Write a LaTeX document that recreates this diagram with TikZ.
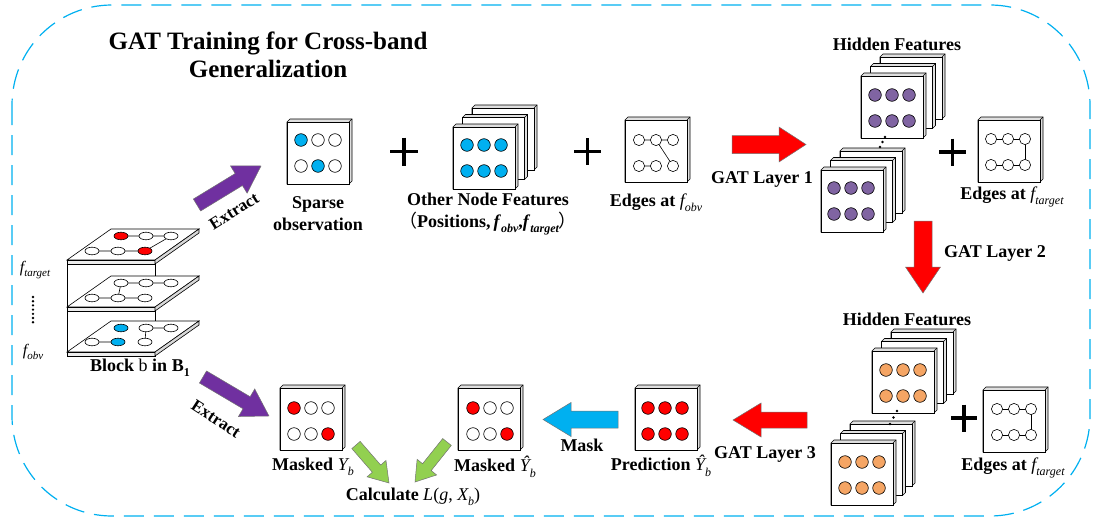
\documentclass[tikz,border=0pt]{standalone}
\usepackage{fontspec}
\setmainfont{Liberation Serif}
\newfontfamily\cjk{Noto Sans CJK SC}
\definecolor{cyanb}{RGB}{0,176,240}
\definecolor{purp}{RGB}{112,48,160}
\definecolor{nodep}{RGB}{128,100,162}
\definecolor{orng}{RGB}{245,165,100}
\definecolor{grn}{RGB}{146,208,80}
\definecolor{redd}{RGB}{255,0,0}
\newcommand\lab{\fontsize{18}{22}\selectfont\bfseries}
\newcommand\sbs[1]{\raisebox{-0.3em}{\fontsize{12}{12}\selectfont #1}}
\newcommand\sbl[1]{\raisebox{-0.3em}{\fontsize{11}{11}\selectfont #1}}
% block arrow: color, tail x,y, tip x,y, body half, head half, head length
\newcommand\barrow[8]{%
  \pgfmathsetmacro\bdx{(#4)-(#2)}\pgfmathsetmacro\bdy{(#5)-(#3)}%
  \pgfmathsetmacro\blen{veclen(\bdx,\bdy)}%
  \pgfmathsetmacro\bang{atan2(0-(\bdy),\bdx)}%
  \pgfmathsetmacro\bneck{\blen-(#8)}%
  \begin{scope}[shift={(#2,#3)},rotate=\bang]
    \filldraw[fill=#1,draw=black!55,line width=0.5pt] (0,-#6) -- (\bneck,-#6) -- (\bneck,-#7) -- (\blen,0) -- (\bneck,#7) -- (\bneck,#6) -- (0,#6) -- cycle;
  \end{scope}}
% card with 3D depth, top-left x,y
\newcommand\card[2]{%
  \filldraw[fill=gray!25,draw=black,line width=0.6pt] (#1,#2) -- ++(3,-3) -- ++(62,0) -- ++(0,62) -- ++(-3,3) -- ++(-62,0) -- cycle;
  \draw[line width=0.6pt] (#1+62,#2) -- ++(3,-3);
  \filldraw[fill=white,draw=black,line width=0.9pt] (#1,#2) rectangle ++(62,62);}
\newcommand\stackc[2]{\card{#1+19}{#2-19}\card{#1+9.5}{#2-9.5}\card{#1}{#2}}
% six circles around centre
\newcommand\six[8]{%
  \foreach \xx/\yy/\cc in {-17/-13/#3,0/-13/#4,17/-13/#5,-17/13/#6,0/13/#7,17/13/#8}
    \filldraw[fill=\cc,draw=black,line width=0.6pt] (#1+\xx,#2+\yy) circle[radius=6.3pt];}
\newcommand\graphobv[2]{%
  \draw[line width=0.6pt] (#1-17,#2-13) -- (#1+17,#2-13) (#1-17,#2+13) -- (#1,#2+13) (#1,#2-13) -- (#1+17,#2+13);
  \foreach \xx/\yy in {-17/-13,0/-13,17/-13,-17/13,0/13,17/13}
    \filldraw[fill=white,draw=black,line width=0.6pt] (#1+\xx,#2+\yy) circle[radius=5.6pt];}
\newcommand\graphtgt[2]{%
  \draw[line width=0.6pt] (#1-17,#2-13) -- (#1+17,#2-13) (#1-17,#2+13) -- (#1+17,#2+13) (#1+17,#2-13) -- (#1+17,#2+13);
  \foreach \xx/\yy in {-17/-13,0/-13,17/-13,-17/13,0/13,17/13}
    \filldraw[fill=white,draw=black,line width=0.6pt] (#1+\xx,#2+\yy) circle[radius=5.6pt];}
\newcommand\plate[1]{%
  \filldraw[fill=white,draw=black,line width=0.6pt] (67,#1) -- (155,#1) -- (199,#1-31) -- (111,#1-31) -- cycle;
  \filldraw[fill=gray!15,draw=black,line width=0.6pt] (67,#1) rectangle (155,#1+4);
  \filldraw[fill=gray!30,draw=black,line width=0.6pt] (155,#1) -- (199,#1-31) -- (199,#1-27) -- (155,#1+4) -- cycle;}
\newcommand\pe[3]{\filldraw[fill=#3,draw=black,line width=0.6pt] (#1,#2) ellipse[x radius=7pt,y radius=3.8pt];}
\tikzset{lbl/.style={font=\lab,inner sep=1pt,align=center}}
\begin{document}
\begin{tikzpicture}[x=1pt,y=-1pt]
\useasboundingbox (0,0) rectangle (1098,519);
% border
\draw[cyanb,line width=1.2pt,dash pattern=on 20pt off 10pt,rounded corners=100pt] (12,5) rectangle (1090,516);
% title
\node[font=\fontsize{25}{28}\selectfont\bfseries,align=center] (title) at (268,55) {GAT Training for Cross-band\\Generalization};
% ---- block stack
\draw[line width=0.8pt] (67,262) -- (67,354) (155,262) -- (155,354);
\plate{260}\plate{307}\plate{352}
% top plate
\draw[line width=0.6pt] (121,236) -- (171,236) -- (145,251) (92,251) -- (145,251);
\pe{121}{236}{redd}\pe{146}{236}{white}\pe{171}{236}{white}
\pe{92}{251}{white}\pe{118}{251}{white}\pe{145}{251}{redd}
% middle plate
\draw[line width=0.6pt] (121,283) -- (171,283) (92,298) -- (145,298) (121,283) -- (118,298);
\pe{121}{283}{white}\pe{146}{283}{white}\pe{171}{283}{white}
\pe{92}{298}{white}\pe{118}{298}{white}\pe{145}{298}{white}
% bottom plate
\draw[line width=0.6pt] (146,328) -- (171,328) (146,328) -- (145,342) (92,342) -- (118,342);
\pe{121}{328}{cyanb}\pe{146}{328}{white}\pe{171}{328}{white}
\pe{92}{342}{white}\pe{118}{342}{cyanb}\pe{145}{342}{white}
\node[font=\fontsize{16}{16}\selectfont\itshape] (ft) at (35,270) {f\sbl{target}};
\foreach \k in {0,...,6} \fill (33,297+\k*4.2) circle[radius=1.3pt];
\node[font=\fontsize{16}{16}\selectfont\itshape] (fo) at (33,352) {f\sbl{obv}};
\node[lbl] (block) at (140,368) {Block {\mdseries b} in B\sbs{1}};
% ---- extract arrows
\barrow{purp}{197}{205}{261}{166}{7}{16}{26}
\node[lbl,font=\fontsize{17}{17}\selectfont\bfseries,rotate=32] (ex1) at (234,211) {Extract};
\barrow{purp}{203}{377}{269}{416}{7}{16}{26}
\node[lbl,font=\fontsize{17}{17}\selectfont\bfseries,rotate=-33] (ex2) at (216,419) {Extract};
% ---- sparse observation
\card{287}{122}
\six{318}{153}{cyanb}{white}{white}{white}{cyanb}{white}
\node[lbl] (sparse) at (318,214) {Sparse\\observation};
\draw[line width=3.2pt] (390,151.5) -- (418,151.5) (404,137.5) -- (404,165.5);
% ---- other node features
\stackc{453}{127}
\six{484}{158}{cyanb}{cyanb}{cyanb}{cyanb}{cyanb}{cyanb}
\node[lbl] (other) at (488,214) {Other Node Features\\{\mdseries\cjk （}Positions,\,\textit{f}\sbs{\itshape obv},\textit{f}\sbs{\itshape target}{\mdseries\cjk ）}};
\draw[line width=3.2pt] (574,151.5) -- (601,151.5) (587.5,138) -- (587.5,165);
% ---- edges at f_obv
\card{625}{120}
\graphobv{656}{153}
\node[lbl] (eobv) at (656,203) {Edges at {\mdseries\itshape f}\sbs{\mdseries\itshape obv}};
% ---- GAT layer 1
\barrow{redd}{732}{144.5}{806}{144.5}{9}{17.5}{27}
\node[lbl] (gat1) at (762,179) {GAT Layer 1};
% ---- hidden features 1
\node[lbl] (hid1) at (897,44) {Hidden Features};
\stackc{861}{76}
\six{892}{108}{nodep}{nodep}{nodep}{nodep}{nodep}{nodep}
\stackc{821}{170}
\six{851}{201}{nodep}{nodep}{nodep}{nodep}{nodep}{nodep}
\fill (885,137) circle[radius=1.4pt] (882.5,142) circle[radius=1.4pt] (880,147) circle[radius=1.4pt];
\draw[line width=3.2pt] (939,152) -- (966,152) (952.5,138.5) -- (952.5,165.5);
\card{978}{120}
\graphtgt{1008}{152}
\node[lbl] (etgt1) at (1012,197) {Edges at {\mdseries\itshape f}\sbs{\mdseries\itshape target}};
% ---- GAT layer 2
\barrow{redd}{923}{221}{923}{293}{9}{17.5}{26}
\node[lbl] (gat2) at (995,253) {GAT Layer 2};
% ---- hidden features 2
\node[lbl] (hid2) at (907,319) {Hidden Features};
\stackc{872}{351}
\six{903}{383}{orng}{orng}{orng}{orng}{orng}{orng}
\stackc{831}{443}
\six{862}{475}{orng}{orng}{orng}{orng}{orng}{orng}
\fill (897,411) circle[radius=1.4pt] (893.5,417.5) circle[radius=1.4pt] (890,424) circle[radius=1.4pt];
\draw[line width=3.2pt] (951,418) -- (977,418) (964,404.5) -- (964,431.5);
\card{983}{390}
\graphtgt{1014}{422}
\node[lbl] (etgt2) at (1013,468) {Edges at {\mdseries\itshape f}\sbs{\mdseries\itshape target}};
% ---- GAT layer 3
\barrow{redd}{807}{420}{733}{420}{8}{17}{28}
\node[lbl] (gat3) at (765,454) {GAT Layer 3};
% ---- prediction
\card{635}{388}
\six{665}{421}{redd}{redd}{redd}{redd}{redd}{redd}
\node[lbl] (pred) at (661,466) {Prediction {\mdseries\itshape Ŷ}\sbs{\mdseries\itshape b}};
% ---- mask
\barrow{cyanb}{618}{419.5}{543}{419.5}{8.5}{17}{28}
\node[lbl] (mask) at (582,445) {Mask};
% ---- masked hat
\card{458}{388}
\six{490}{421}{redd}{white}{white}{white}{white}{redd}
\node[lbl] (mhat) at (495,467) {Masked {\mdseries\itshape Ŷ}\sbs{\mdseries\itshape b}};
% ---- masked Y
\card{280}{388}
\six{311}{421}{redd}{white}{white}{white}{white}{redd}
\node[lbl] (my) at (313,467) {Masked {\mdseries\itshape Y}\sbs{\mdseries\itshape b}};
% ---- green arrows
\barrow{grn}{356}{445}{389}{483}{5.5}{12.5}{19}
\barrow{grn}{447}{442}{415}{482}{5.5}{12.5}{19}
\node[lbl] (calc) at (413,497) {Calculate {\mdseries\itshape L}{\mdseries(}{\mdseries\itshape g}{\mdseries,} {\mdseries\itshape X}\sbs{\mdseries\itshape b}{\mdseries)}};
\end{tikzpicture}
\end{document}
